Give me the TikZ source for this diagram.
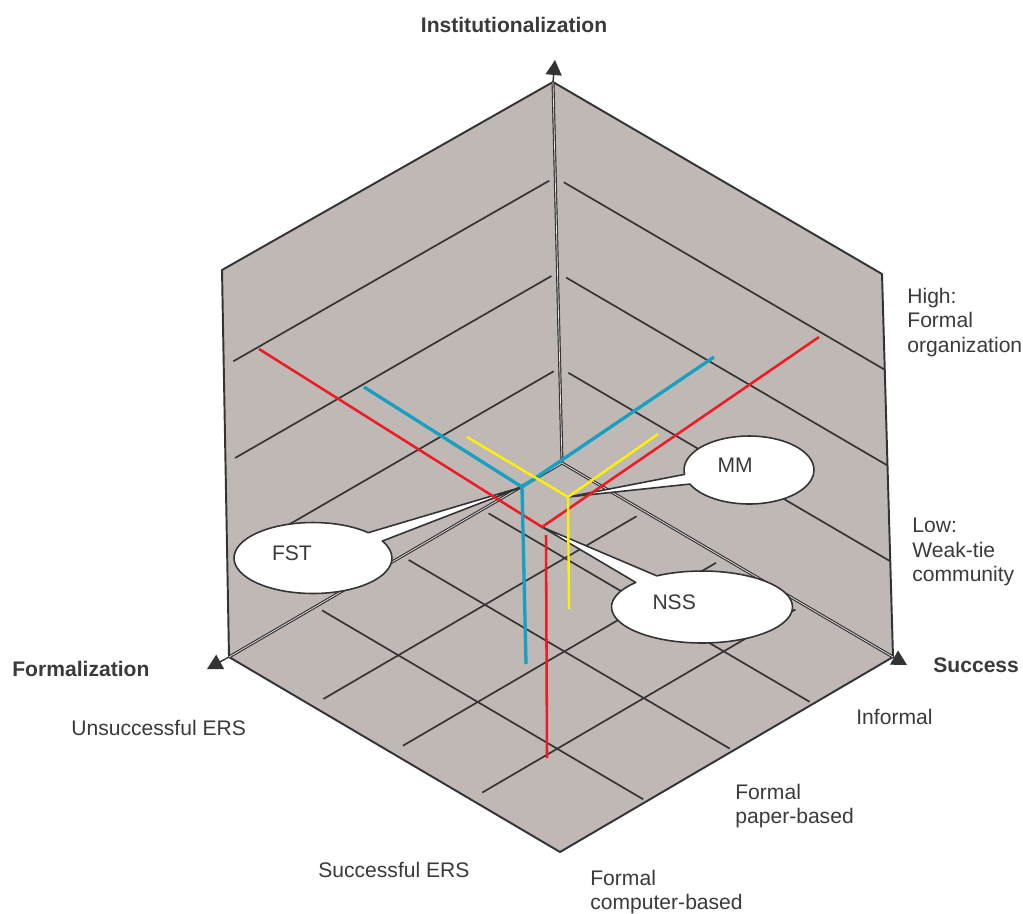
\documentclass[tikz,border=0pt]{standalone}
\usepackage{fontspec}
\setmainfont{Liberation Sans}
\usetikzlibrary{arrows.meta, calc, shapes.callouts}
\definecolor{wallgrey}{HTML}{C0B8B5}
\definecolor{edgegrey}{HTML}{333335}
\definecolor{inkgrey}{HTML}{3A3A3C}
\definecolor{ersred}{HTML}{EC1C24}
\definecolor{ersblue}{HTML}{17A0C2}
\definecolor{ersyellow}{HTML}{FFF200}
\tikzset{
  face/.style={fill=wallgrey, draw=edgegrey, line width=1.1pt, line join=round},
  grid line/.style={draw=edgegrey, line width=0.95pt},
  axis/.style={draw=edgegrey, line width=0.65pt, double=white!70!wallgrey, double distance=0.4pt},
  axis tip/.style={draw=edgegrey, line width=0.8pt, -{Triangle[length=0.3cm, width=0.32cm]}},
  red trace/.style={ersred, line width=1.45pt},
  blue trace/.style={ersblue, line width=1.9pt},
  yellow trace/.style={ersyellow, line width=1.35pt},
  bubble/.style={ellipse callout, draw=edgegrey, fill=white, line width=0.9pt,
    line join=round, callout pointer arc=17, align=left, inner sep=0pt,
    text height=9pt, text depth=6pt},
  every node/.append style={font=\fontsize{12}{13.8}\selectfont, text=inkgrey, inner sep=0pt},
  axis label/.style={font=\fontsize{12}{13.8}\selectfont\bfseries}
}
\begin{document}
\begin{tikzpicture}[x=0.02cm, y=-0.02cm]
\useasboundingbox (0,0) rectangle (1023,913);
\coordinate (O) at (562,463);
\coordinate (T) at (553,82);
\coordinate (L) at (229,657);
\coordinate (R) at (893,657);
\coordinate (B) at (560,852);
\coordinate (TL) at (222,270);
\coordinate (TR) at (882,274);

% walls and floor
\draw[face] (O) -- (L) -- (TL) -- (T) -- cycle;
\draw[face] (O) -- (R) -- (TR) -- (T) -- cycle;
\draw[face] (O) -- (L) -- (B) -- (R) -- cycle;

\foreach \f in {0.25,0.5,0.75} {
  \draw[grid line, shorten <=0.22cm, shorten >=0.14cm] ($(TL)!\f!(L)$) -- ($(T)!\f!(O)$);
  \draw[grid line, shorten <=0.2cm] ($(T)!\f!(O)$) -- ($(TR)!\f!(R)$);
}
\foreach \f in {0.24,0.48,0.74}
  \draw[grid line, shorten <=0.15cm, shorten >=0.08cm] ($(O)!\f!(L)$) -- ($(R)!\f!(B)$);
\foreach \f in {0.25,0.49,0.73}
  \draw[grid line, shorten <=0.19cm, shorten >=0.27cm] ($(O)!\f!(R)$) -- ($(L)!\f!(B)$);

% axes
\coordinate (Ttip) at (555,60);
\coordinate (Ltip) at (207,669);
\coordinate (Rtip) at (907,665);
\draw[axis] (O) -- (T);
\draw[axis] (O) -- (L);
\draw[axis] (O) -- (R);
\draw[axis tip] (T) -- (Ttip);
\draw[axis tip] (L) -- (Ltip);
\draw[axis tip] (R) -- (Rtip);

% cases
\coordinate (redc) at (542,527);
\coordinate (redl) at (259,349);
\coordinate (redr) at (819,337);
\coordinate (redv) at (546,535);
\coordinate (redf) at (547,758);
\coordinate (bluec) at (522,487);
\coordinate (bluel) at (364,387);
\coordinate (bluer) at (714,357);
\coordinate (bluef) at (526,664);
\coordinate (yelc) at (568,497);
\coordinate (yell) at (467,437);
\coordinate (yelr) at (658,434);
\coordinate (yelf) at (569,609);

\node[bubble, text width=1.26cm, minimum width=2.6cm, minimum height=1.36cm,
  callout absolute pointer={(yelc)}] (mm) at (749,470) {MM};
\node[bubble, text width=1.64cm, minimum width=3.16cm, minimum height=1.42cm,
  callout absolute pointer={(bluec)}] (fst) at (313,558) {FST};
\node[bubble, text width=1.98cm, minimum width=3.62cm, minimum height=1.44cm,
  callout absolute pointer={(redc)}] (nss) at (702,607) {NSS};

\draw[red trace] (redl) -- (redc) -- (redr);
\draw[red trace] (redv) -- (redf);
\draw[blue trace] (bluel) -- (bluec) -- (bluer);
\draw[blue trace] (bluec) -- (bluef);
\draw[yellow trace] (yell) -- (yelc) -- (yelr);
\draw[yellow trace] (yelc) -- (yelf);

% labels
\node[axis label] (instlab) at (514,25) {Institutionalization};
\node[axis label, anchor=west] (formlab) at (12,669) {Formalization};
\node[axis label, anchor=west] (succlab) at (933,665) {Success};
\node[anchor=north west, align=left] (high) at (907,288) {High:\\Formal\\organization};
\node[anchor=north west, align=left] (low) at (912,518) {Low:\\Weak-tie\\community};
\node[anchor=west] (unsucc) at (71,728) {Unsuccessful ERS};
\node[anchor=west] (succ) at (318,870) {Successful ERS};
\node[anchor=west] (informal) at (856,717) {Informal};
\node[anchor=north west, align=left] (paper) at (735,784) {Formal\\paper-based};
\node[anchor=north west, align=left] (computer) at (590,870) {Formal\\computer-based};
\end{tikzpicture}
\end{document}
